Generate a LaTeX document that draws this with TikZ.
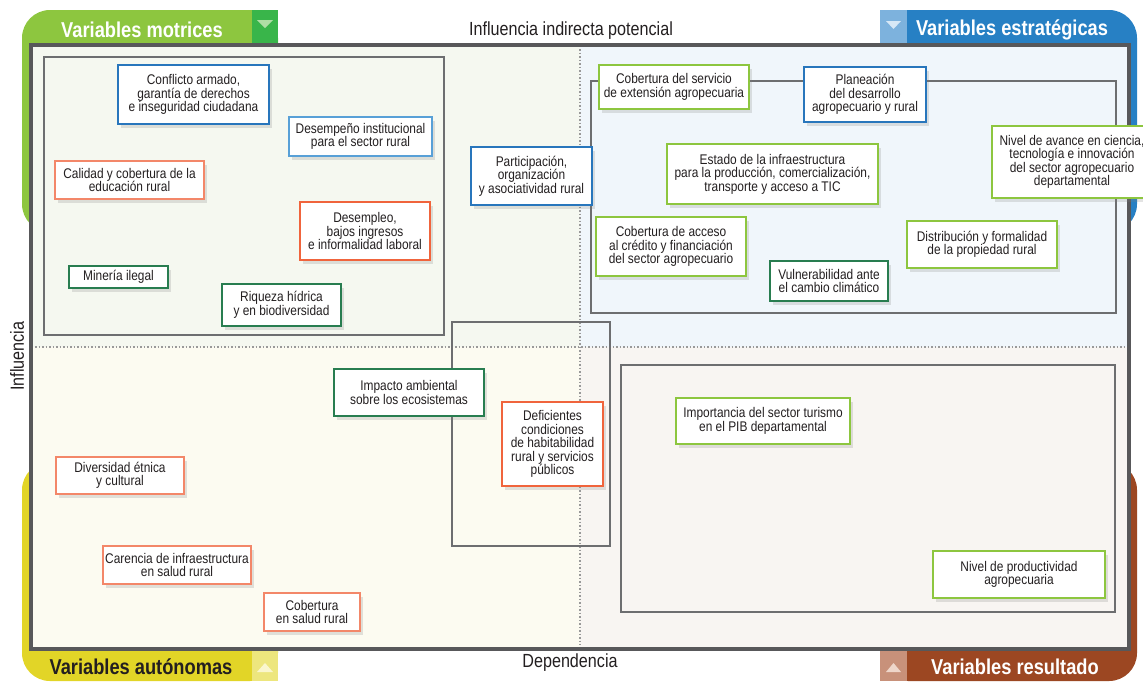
\documentclass[tikz,border=0pt]{standalone}
\usepackage{fontspec}
\setmainfont{Liberation Sans}[FakeStretch=0.85]
\usetikzlibrary{shadows}
\definecolor{motrizgreen}{RGB}{141,198,63}
\definecolor{motrizsq}{RGB}{57,181,74}
\definecolor{motriztri}{RGB}{175,222,165}
\definecolor{estratblue}{RGB}{39,128,196}
\definecolor{estratsq}{RGB}{125,178,221}
\definecolor{estrattri}{RGB}{215,232,246}
\definecolor{autoyellow}{RGB}{226,213,39}
\definecolor{autosq}{RGB}{237,230,125}
\definecolor{autotri}{RGB}{250,246,205}
\definecolor{resultbrown}{RGB}{156,71,34}
\definecolor{resultsq}{RGB}{200,145,122}
\definecolor{resulttri}{RGB}{238,214,202}
\definecolor{boxblue}{RGB}{40,118,188}
\definecolor{boxlightblue}{RGB}{88,160,215}
\definecolor{boxred}{RGB}{240,100,60}
\definecolor{boxsalmon}{RGB}{243,135,105}
\definecolor{boxdkgreen}{RGB}{40,125,80}
\definecolor{boxgreen}{RGB}{141,198,63}
\definecolor{framegray}{RGB}{88,88,90}
\definecolor{zonegray}{RGB}{109,110,112}
\definecolor{textgray}{RGB}{35,31,32}
\definecolor{bgtl}{RGB}{245,248,240}
\definecolor{bgtr}{RGB}{240,246,251}
\definecolor{bgbl}{RGB}{252,251,241}
\definecolor{bgbr}{RGB}{248,245,242}

\begin{document}
\begin{tikzpicture}[x=1pt, y=-1pt,
    var/.style={draw=#1, fill=white, line width=1.3pt, align=center,
                text=textgray, font=\fontsize{14}{13.5}\selectfont, inner sep=1pt,
                drop shadow={shadow xshift=3pt, shadow yshift=-4pt, opacity=0.22}},
    zone/.style={draw=zonegray, line width=1.2pt},
    divider/.style={draw=gray!80, dotted, line width=1.5pt},
    title/.style={font=\fontsize{21.5}{24}\selectfont\bfseries, text=white},
    axislabel/.style={font=\fontsize{19}{20}\selectfont, text=textgray}
  ]
    \useasboundingbox (0,0) rectangle (1143,681);

    \fill[motrizgreen, rounded corners=28pt] (22,10) rectangle (278,232);
    \fill[estratblue, rounded corners=28pt] (880,10) rectangle (1137,232);
    \fill[autoyellow, rounded corners=28pt] (22,462) rectangle (278,681);
    \fill[resultbrown, rounded corners=28pt] (880,462) rectangle (1137,681);

    \fill[motrizsq] (252,10) rectangle (278,45);
    \fill[motriztri] (257,20) -- (273,20) -- (265,28) -- cycle;
    \fill[estratsq] (880,10) rectangle (907,45);
    \fill[estrattri] (886,21) -- (901,21) -- (893.5,29) -- cycle;
    \fill[autosq] (252,649) rectangle (278,681);
    \fill[autotri] (257,672) -- (273,672) -- (265,663) -- cycle;
    \fill[resultsq] (880,649) rectangle (907,681);
    \fill[resulttri] (886,672) -- (901,672) -- (893.5,663) -- cycle;

    \fill[bgtl] (31,45) rectangle (580,347);
    \fill[bgtr] (580,45) rectangle (1129,347);
    \fill[bgbl] (31,347) rectangle (580,649);
    \fill[bgbr] (580,347) rectangle (1129,649);
    \draw[divider] (580,49) -- (580,645);
    \draw[divider] (35,347) -- (1125,347);
    \draw[framegray, line width=4pt] (31,45) rectangle (1129,649);

    \draw[zone] (44,57) rectangle (444,335);
    \draw[zone] (591,81) rectangle (1116,313);
    \draw[zone] (452,322) rectangle (610,546);
    \draw[zone] (621,365) rectangle (1115,612);

    \node[title] (motrices) at (142,30) {Variables motrices};
    \node[title] (estrategicas) at (1012,30) {Variables estratégicas};
    \node[title, text=textgray] (autonomas) at (141,667) {Variables autónomas};
    \node[title] (resultado) at (1015,667) {Variables resultado};

    \node[axislabel] (indirecta) at (571,31) {Influencia indirecta potencial};
    \node[axislabel] (dependencia) at (570,663) {Dependencia};
    \node[axislabel, rotate=90] (influencia) at (17,356) {Influencia};

    \node[var=boxblue, minimum width=151pt, minimum height=59pt] (conflicto) at (193.5,94.5) {Conflicto armado,\\garantía de derechos\\e inseguridad ciudadana};
    \node[var=boxlightblue, minimum width=143pt, minimum height=39pt] (desempeno) at (360.5,136.5) {Desempeño institucional\\para el sector rural};
    \node[var=boxsalmon, minimum width=149pt, minimum height=38pt] (calidad) at (129.5,180) {Calidad y cobertura de la\\educación rural};
    \node[var=boxred, minimum width=130pt, minimum height=58pt] (desempleo) at (365,231) {Desempleo,\\bajos ingresos\\e informalidad laboral};
    \node[var=boxdkgreen, minimum width=99pt, minimum height=22pt] (mineria) at (118.5,277) {Minería ilegal};
    \node[var=boxdkgreen, minimum width=119pt, minimum height=42pt] (riqueza) at (281.5,305) {Riqueza hídrica\\y en biodiversidad};
    \node[var=boxblue, minimum width=121pt, minimum height=58pt] (participacion) at (531.5,176) {Participación,\\organización\\y asociatividad rural};

    \node[var=boxgreen, minimum width=150pt, minimum height=44pt] (extension) at (674,87) {Cobertura del servicio\\de extensión agropecuaria};
    \node[var=boxblue, minimum width=122pt, minimum height=55pt] (planeacion) at (865,94.5) {Planeación\\del desarrollo\\agropecuario y rural};
    \node[var=boxgreen, minimum width=211pt, minimum height=60pt] (infra) at (772.5,174) {Estado de la infraestructura\\para la producción, comercialización,\\transporte y acceso a TIC};
    \node[var=boxgreen, minimum width=160pt, minimum height=72pt] (ciencia) at (1072,162) {Nivel de avance en ciencia,\\tecnología e innovación\\del sector agropecuario\\departamental};
    \node[var=boxgreen, minimum width=150pt, minimum height=59pt] (credito) at (671,246.5) {Cobertura de acceso\\al crédito y financiación\\del sector agropecuario};
    \node[var=boxdkgreen, minimum width=118pt, minimum height=40pt] (vulnerab) at (829,281) {Vulnerabilidad ante\\el cambio climático};
    \node[var=boxgreen, minimum width=150pt, minimum height=47pt] (propiedad) at (982,244.5) {Distribución y formalidad\\de la propiedad rural};

    \node[var=boxdkgreen, minimum width=150pt, minimum height=47pt] (impacto) at (409,392.5) {Impacto ambiental\\sobre los ecosistemas};
    \node[var=boxred, minimum width=101pt, minimum height=84pt] (deficientes) at (552.5,444) {Deficientes\\condiciones\\de habitabilidad\\rural y servicios\\públicos};
    \node[var=boxsalmon, minimum width=128pt, minimum height=37pt] (diversidad) at (120,475.5) {Diversidad étnica\\y cultural};
    \node[var=boxsalmon, minimum width=148pt, minimum height=38pt] (carencia) at (177,565) {Carencia de infraestructura\\en salud rural};
    \node[var=boxsalmon, minimum width=96pt, minimum height=38pt] (salud) at (312,612) {Cobertura\\en salud rural};

    \node[var=boxgreen, minimum width=174pt, minimum height=46pt] (turismo) at (763,421) {Importancia del sector turismo\\en el PIB departamental};
    \node[var=boxgreen, minimum width=172pt, minimum height=47pt] (productividad) at (1019,574.5) {Nivel de productividad\\agropecuaria};
  \end{tikzpicture}
\end{document}
